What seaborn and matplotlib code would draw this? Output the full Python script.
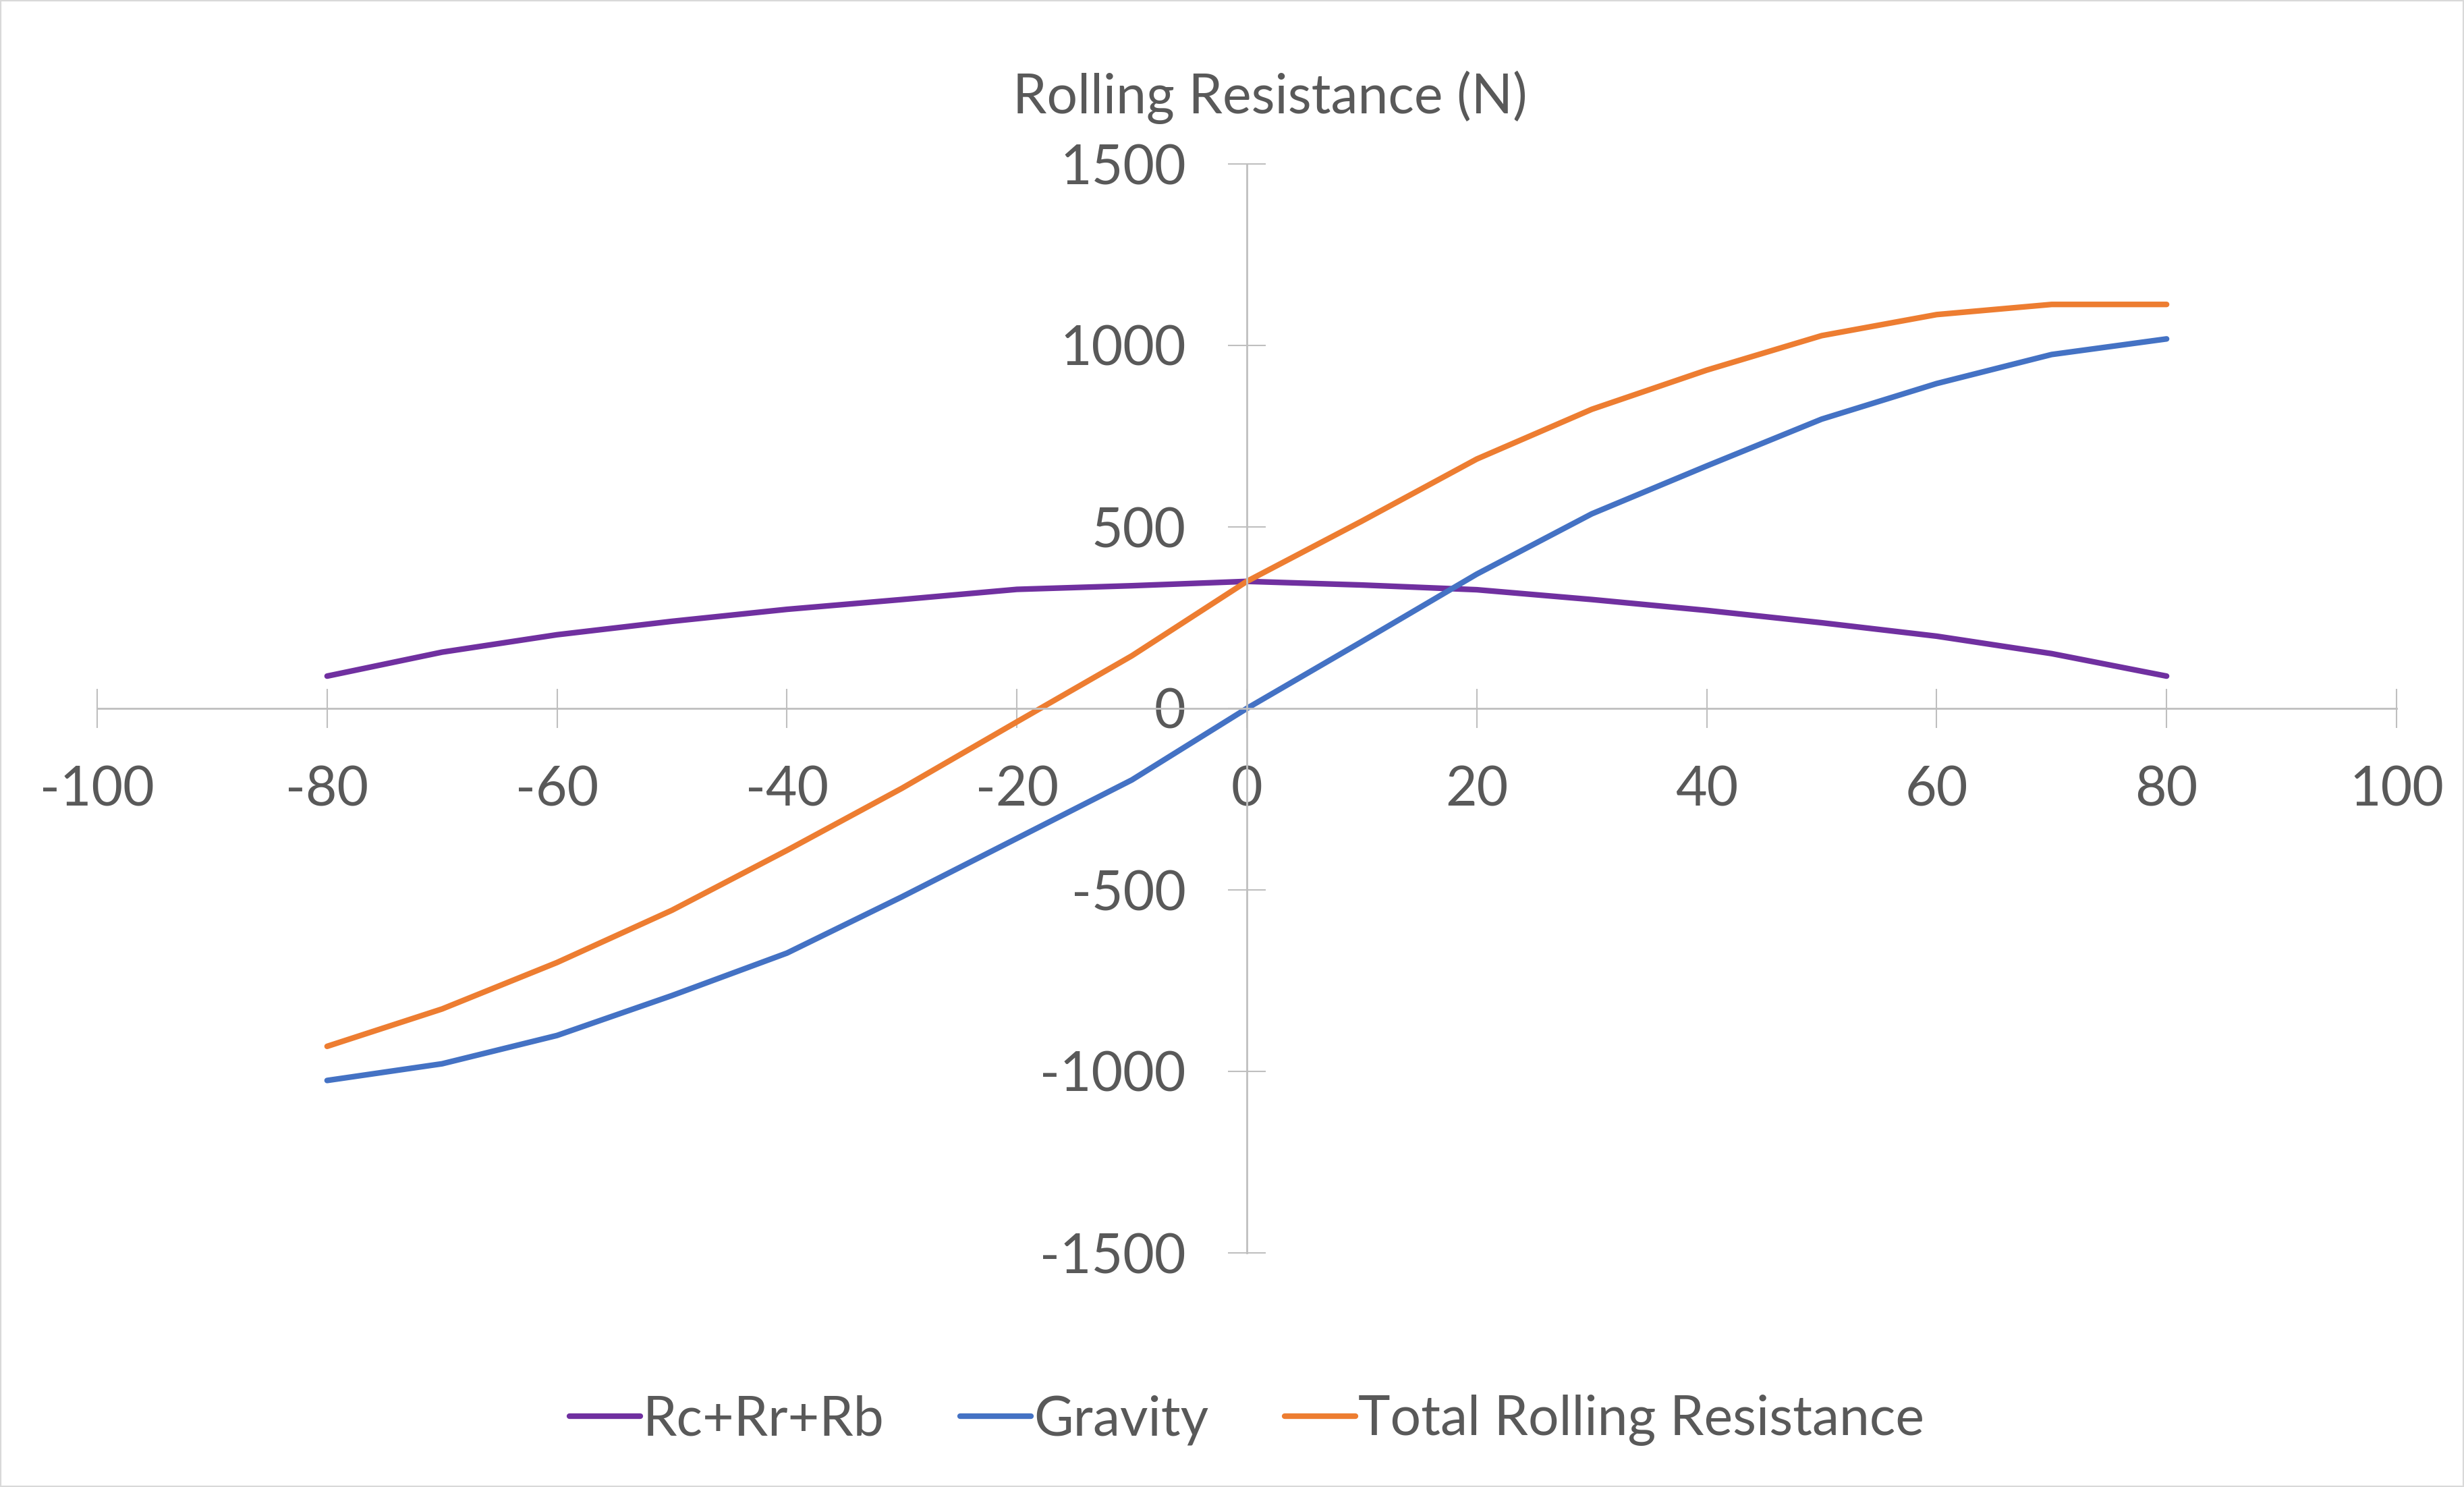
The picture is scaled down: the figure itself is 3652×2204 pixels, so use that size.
import matplotlib
matplotlib.use("Agg")
import matplotlib.pyplot as plt
import seaborn as sns
import pandas as pd
from matplotlib.lines import Line2D
from matplotlib.patches import Rectangle

angles = [-80, -70, -60, -50, -40, -30, -20, -10, 0, 10, 20, 30, 40, 50, 60, 70, 80]
rc_rr_rb = [89, 155, 203, 240, 273, 300, 328, 338, 350, 340, 327, 300, 270, 236, 199, 151, 89]
gravity = [-1025, -979, -901, -791, -674, -519, -358, -197, 0, 184, 370, 536, 668, 797, 895, 975, 1018]
total = [-931, -828, -700, -556, -391, -220, -37, 145, 350, 516, 687, 824, 932, 1027, 1085, 1113, 1113]
series_names = ["Rc+Rr+Rb", "Gravity", "Total Rolling Resistance"]
colors = ["#7030A0", "#4472C4", "#ED7D31"]
x_ticks = [-100, -80, -60, -40, -20, 0, 20, 40, 60, 80, 100]
y_ticks = [-1500, -1000, -500, 0, 500, 1000, 1500]
title = "Rolling Resistance (N)"

sns.set_theme(style="white")
plt.rcParams['font.family'] = ['Lato', 'DejaVu Sans']
plt.rcParams['axes.unicode_minus'] = False

df = pd.DataFrame({
    "x": angles * 3,
    "y": rc_rr_rb + gravity + total,
    "series": [series_names[0]] * len(angles) + [series_names[1]] * len(angles) + [series_names[2]] * len(angles),
})

W, H = 3652, 2204
fig = plt.figure(figsize=(W / 100, H / 100), dpi=100)
ax = fig.add_axes([144 / W, 1 - 1857 / H, (3552 - 144) / W, (1857 - 243) / H])

sns.lineplot(data=df, x="x", y="y", hue="series", hue_order=series_names,
             palette=colors, linewidth=6, ax=ax, legend=False, sort=False)

ax.set_xlim(-100, 100)
ax.set_ylim(-1500, 1500)
ax.set_xticks(x_ticks)
ax.set_yticks(y_ticks)
ax.set_xlabel("")
ax.set_ylabel("")

axis_col = "#BFBFBF"
text_col = "#595959"
for s in ["top", "right"]:
    ax.spines[s].set_visible(False)
ax.spines["left"].set_position(("data", 0))
ax.spines["bottom"].set_position(("data", 0))
for s in ["left", "bottom"]:
    ax.spines[s].set_color(axis_col)
    ax.spines[s].set_linewidth(2)

ax.tick_params(axis="x", bottom=True, direction="inout", length=42, width=1.5, color=axis_col,
               labelsize=58, labelcolor=text_col, pad=40)
ax.tick_params(axis="y", left=True, direction="inout", length=40, width=1.5, color=axis_col,
               labelsize=58, labelcolor=text_col, pad=45)
ax.grid(False)

fig.text(1882 / W, 1 - 144 / H, title, ha="center", va="center",
         fontsize=58, color=text_col)

handles = [Line2D([0], [0], color=c, lw=6) for c in colors]
leg = fig.legend(handles, series_names, loc="center", bbox_to_anchor=(0.506, 1 - 2105 / H),
                 ncol=3, frameon=False, fontsize=58, handlelength=1.3,
                 handletextpad=0.05, columnspacing=1.4, labelcolor=text_col)

fig.patches.append(Rectangle((0, 0), 1, 1, transform=fig.transFigure, fill=False,
                             edgecolor="#D9D9D9", linewidth=3))

fig.savefig("out.png", dpi=100)
